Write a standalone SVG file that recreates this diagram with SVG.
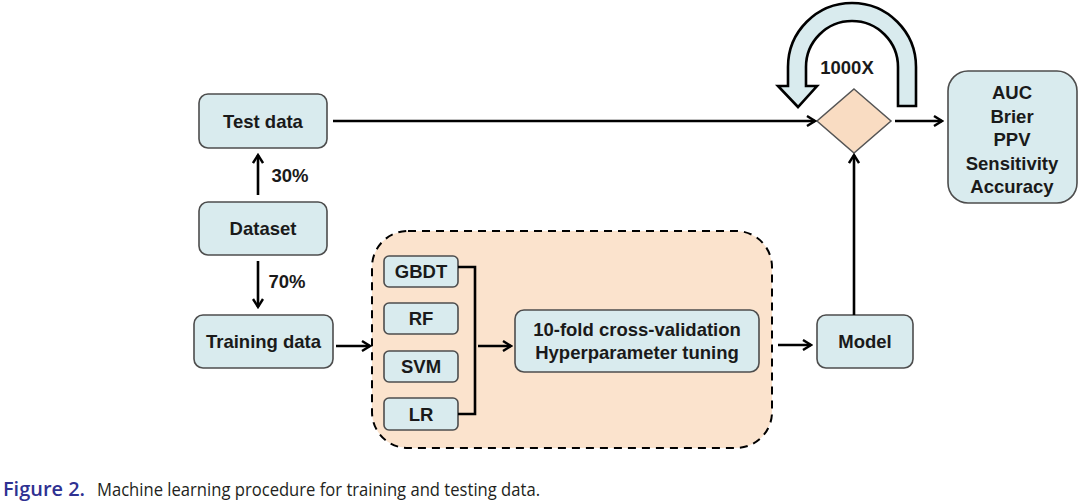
<svg xmlns="http://www.w3.org/2000/svg" width="1080" height="503" viewBox="0 0 1080 503">
<style>
.box{fill:#d9ebee;stroke:#4d4d4d;stroke-width:1.6}
.t{font-family:"Liberation Sans",Arial,sans-serif;font-weight:bold;font-size:18.5px;fill:#1a1a1a;text-anchor:middle}
.ln{fill:none;stroke:#000;stroke-width:2.6}
.arr{marker-end:url(#ah)}
</style>
<defs>
<marker id="ah" viewBox="0 0 12 12" refX="10" refY="6" markerWidth="12" markerHeight="12" markerUnits="userSpaceOnUse" orient="auto">
<path d="M2 1 L10 6 L2 11" fill="none" stroke="#000" stroke-width="2.4" stroke-linejoin="miter"/>
</marker>
</defs>
<rect width="1080" height="503" fill="#fff"/>
<g id="training-region">
<rect x="372" y="231" width="400" height="217" rx="36" fill="#fbe3cd" stroke="#000" stroke-width="2" stroke-dasharray="8 6"/>
</g>
<g id="test-data"><rect class="box" x="199" y="94" width="128" height="54" rx="9"/><text class="t" x="263" y="128">Test data</text></g>
<g id="dataset"><rect class="box" x="199" y="202" width="128" height="53" rx="9"/><text class="t" x="263" y="235">Dataset</text></g>
<g id="training-data"><rect class="box" x="194" y="315" width="139" height="53" rx="9"/><text class="t" x="263.5" y="348">Training data</text></g>
<g id="gbdt"><rect class="box" x="384" y="256" width="74" height="31" rx="5"/><text class="t" x="421" y="278">GBDT</text></g>
<g id="rf"><rect class="box" x="384" y="303" width="74" height="31" rx="5"/><text class="t" x="421" y="325">RF</text></g>
<g id="svm"><rect class="box" x="384" y="351" width="74" height="31" rx="5"/><text class="t" x="421" y="373">SVM</text></g>
<g id="lr"><rect class="box" x="384" y="398" width="74" height="32" rx="5"/><text class="t" x="421" y="420.5">LR</text></g>
<g id="cv"><rect class="box" x="515" y="310" width="244" height="62" rx="9"/><text class="t" x="637" y="336">10-fold cross-validation</text><text class="t" x="637" y="359">Hyperparameter tuning</text></g>
<g id="model"><rect class="box" x="817" y="315" width="96" height="53" rx="9"/><text class="t" x="865" y="348">Model</text></g>
<g id="decision"><polygon points="854,89 891,121 854,153 817,121" fill="#f9dcc2" stroke="#555" stroke-width="1.5"/></g>
<g id="metrics"><rect class="box" x="948" y="71" width="129" height="132" rx="20"/>
<text class="t" x="1012" y="99">AUC</text><text class="t" x="1012" y="122.5">Brier</text><text class="t" x="1012" y="146">PPV</text><text class="t" x="1012" y="169.5">Sensitivity</text><text class="t" x="1012" y="193">Accuracy</text></g>
<g id="loop"><path d="M898 106 L898 67 A46 46 0 0 0 806 67 L806 86 L817 86 L798 107 L778 86 L788 86 L788 67 A64 64 0 0 1 916 67 L916 106 Z" fill="#d9ebee" stroke="#000" stroke-width="2.6" stroke-linejoin="miter"/>
<text class="t" x="847" y="74">1000X</text></g>
<g id="connectors">
<line class="ln arr" x1="258" y1="195" x2="258" y2="155"/>
<text class="t" x="290" y="182">30%</text>
<line class="ln arr" x1="258" y1="261" x2="258" y2="307"/>
<text class="t" x="287" y="288">70%</text>
<line class="ln arr" x1="333" y1="121" x2="815" y2="121"/>
<line class="ln arr" x1="336" y1="346" x2="370" y2="346"/>
<polyline class="ln" points="458,267 475,267 475,414 458,414"/>
<line class="ln arr" x1="478" y1="346" x2="511" y2="346"/>
<line class="ln arr" x1="778" y1="345" x2="811" y2="345"/>
<line class="ln arr" x1="854" y1="315" x2="854" y2="155"/>
<line class="ln arr" x1="895" y1="121" x2="942" y2="121"/>
</g>
<g id="caption">
<text x="3" y="496" font-family="'Open Sans','Noto Sans',sans-serif" font-size="19" font-weight="600" fill="#2e3192" textLength="82" lengthAdjust="spacingAndGlyphs">Figure 2.</text>
<text x="97" y="496" font-family="'Open Sans','Noto Sans',sans-serif" font-size="19" fill="#231f20" textLength="443" lengthAdjust="spacingAndGlyphs">Machine learning procedure for training and testing data.</text>
</g>
</svg>
